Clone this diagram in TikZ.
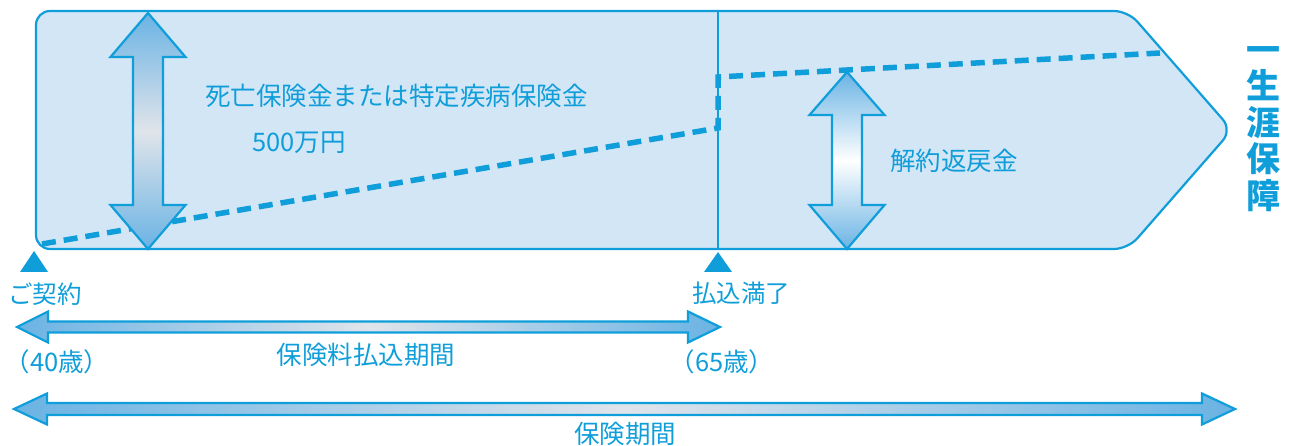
\documentclass[tikz,border=0pt]{standalone}
\usepackage{fontspec}
\newfontfamily\jp{Noto Sans CJK JP}
\definecolor{lineblue}{RGB}{16,158,218}
\definecolor{panelfill}{RGB}{211,230,246}
\definecolor{arrblue}{RGB}{106,179,228}
\definecolor{arrgrey}{RGB}{224,228,234}
\tikzset{
  lbl/.style={inner sep=0pt, text=lineblue, font=\jp\fontsize{25.5}{30}\selectfont},
  smlbl/.style={inner sep=0pt, text=lineblue, font=\jp\fontsize{24.5}{30}\selectfont},
  marker/.style={fill=lineblue, draw=none},
  bigarrow/.style={draw=lineblue, line width=2.2pt, line join=miter},
}
\begin{document}
\begin{tikzpicture}[x=1pt,y=-1pt]
\useasboundingbox (0,0) rectangle (1295,446);
% main panel
\path[draw=lineblue, fill=panelfill, line width=2.2pt, rounded corners=14pt]
  (36,11) -- (1128,11) -- (1232,130) -- (1128,249) -- (36,249) -- cycle;
% vertical divider
\draw[lineblue, line width=2pt] (718,11) -- (718,249);
% dashed value line
\draw[lineblue, line width=5.5pt, dash pattern=on 14pt off 8pt]
  (42,244) -- (718,128) -- (718,77) -- (1160,53);
% left double arrow
\path[bigarrow, top color=arrblue, bottom color=arrblue, middle color=arrgrey]
  (148,13) -- (185.5,57) -- (163,57) -- (163,205) -- (185.5,205) -- (148,249)
  -- (110.5,205) -- (133,205) -- (133,57) -- (110.5,57) -- cycle;
% right double arrow
\path[bigarrow, top color=arrblue, bottom color=arrblue, middle color=white]
  (847,72) -- (884.5,115) -- (862,115) -- (862,205) -- (884.5,205) -- (847,249)
  -- (809.5,205) -- (832,205) -- (832,115) -- (809.5,115) -- cycle;
% markers
\path[marker] (34,251) -- (48,272) -- (20,272) -- cycle;
\path[marker] (718,252) -- (732,272) -- (704,272) -- cycle;
% horizontal arrows
\path[bigarrow, left color=arrblue, right color=arrblue, middle color=arrgrey]
  (17,327) -- (48,311.5) -- (48,321.5) -- (688,321.5) -- (688,311.5) -- (720,327)
  -- (688,342.5) -- (688,332.5) -- (48,332.5) -- (48,342.5) -- cycle;
\path[bigarrow, left color=arrblue, right color=arrblue, middle color=arrgrey]
  (14,409) -- (47,393.5) -- (47,403) -- (1202,403) -- (1202,393.5) -- (1235,409)
  -- (1202,424.5) -- (1202,415) -- (47,415) -- (47,424.5) -- cycle;
% labels
\node[lbl, anchor=west] (death) at (205,96) {死亡保険金または特定疾病保険金};
\node[lbl] (amount) at (299,143) {500万円};
\node[lbl] (surrender) at (954,161) {解約返戻金};
\node[smlbl] (contract) at (45,294) {ご契約};
\node[smlbl] (paidup) at (741,293) {払込満了};
\node[lbl] (payperiod) at (366,355) {保険料払込期間};
\node[lbl] (age40) at (57,362) {（40歳）};
\node[lbl] (age65) at (722,362) {（65歳）};
\node[lbl] (period) at (625,434) {保険期間};
\node[inner sep=0pt, text=lineblue, align=center,
      font=\jp\bfseries\fontsize{34}{36.5}\selectfont] (lifelong) at (1263,129)
  {一\\生\\涯\\保\\障};
\end{tikzpicture}
\end{document}
